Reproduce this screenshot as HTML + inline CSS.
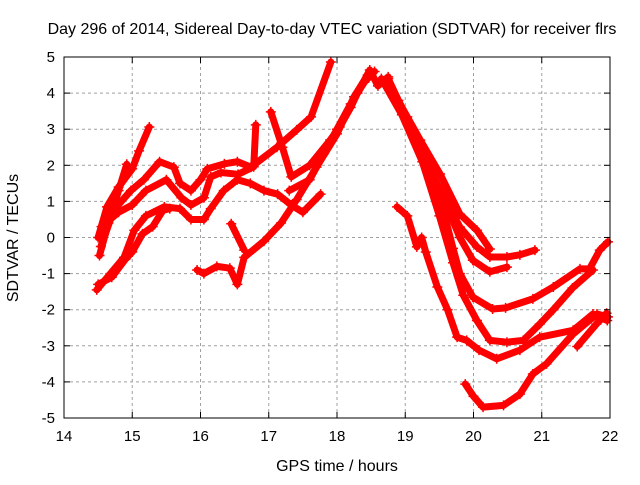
<!DOCTYPE html>
<html><head><meta charset="utf-8"><style>
body{margin:0;background:#fff;}
svg text{font-family:"Liberation Sans",sans-serif;font-size:15px;fill:#000;}
svg text.big{font-size:16px;}
</style></head><body>
<svg id="chart" width="640" height="480" xmlns="http://www.w3.org/2000/svg">
<rect width="640" height="480" fill="#fff"/>
<text class="big" x="332" y="34" text-anchor="middle">Day 296 of 2014, Sidereal Day-to-day VTEC variation (SDTVAR) for receiver flrs</text>
<text class="big" x="337" y="471" text-anchor="middle">GPS time / hours</text>
<text class="big" transform="translate(18,238) rotate(-90)" text-anchor="middle">SDTVAR / TECUs</text>
<g id="grid"></g><g id="series"></g><g id="axes"></g>
</svg>
<script>
const xTicks=[14,15,16,17,18,19,20,21,22];
const yTicks=[-5,-4,-3,-2,-1,0,1,2,3,4,5];
const trackA=[[14.54,-0.25],[14.73,0.76],[14.98,1.3],[15.17,1.6],[15.4,2.1],[15.61,1.95],[15.7,1.5],[15.86,1.3],[16.0,1.6],[16.1,1.9],[16.35,2.04],[16.54,2.1],[16.74,1.95],[17.12,2.5],[17.41,2.98],[17.62,3.34],[17.91,4.86]];
const trackB=[[14.52,-0.5],[14.65,0.4],[14.8,1.3],[14.92,2.03]];
const trackC=[[14.5,0.0],[14.63,0.85],[14.8,1.4],[15.0,1.9],[15.1,2.4],[15.25,3.06]];
const trackD=[[14.55,0.3],[14.8,0.7],[15.0,0.9],[15.2,1.3],[15.5,1.6],[15.72,1.1],[15.86,0.9],[16.05,1.1],[16.15,1.68],[16.3,1.8],[16.55,1.75],[16.78,1.96],[16.81,3.12]];
const trackE=[[14.48,-1.45],[14.68,-1.0],[14.88,-0.55],[15.03,0.2],[15.2,0.6],[15.47,0.85],[15.7,0.8],[15.86,0.5],[16.05,0.5],[16.15,0.8],[16.34,1.3],[16.54,1.6],[16.73,1.5],[16.93,1.3],[17.13,1.2],[17.33,0.9],[17.5,0.7],[17.76,1.2]];
const trackF=[[14.5,-1.3],[14.7,-1.1],[14.9,-0.6],[15.0,-0.4],[15.15,0.1],[15.3,0.3],[15.45,0.75],[15.55,0.8]];
const trackG=[[17.03,3.48],[17.2,2.5],[17.33,1.68],[17.6,2.0],[17.9,2.7],[18.04,3.06],[18.2,3.6],[18.3,4.0],[18.48,4.64],[18.6,4.2],[18.75,4.45]];
const trackH=[[15.95,-0.9],[16.05,-1.0],[16.24,-0.8],[16.43,-0.85],[16.54,-1.3],[16.64,-0.55],[16.93,-0.1],[17.18,0.4],[17.41,1.05],[17.7,1.95],[18.0,2.87],[18.25,3.9],[18.45,4.5]];
const trackI=[[16.45,0.38],[16.64,-0.35]];
const trackJ=[[17.3,1.3],[17.6,1.6],[17.8,2.3],[18.0,3.0],[18.2,3.7],[18.4,4.3],[18.55,4.6]];
const trackD1=[[18.73,4.36],[19.03,3.34],[19.22,2.7],[19.51,1.76],[19.8,0.65],[20.05,0.2],[20.24,-0.32]];
const trackD2=[[18.75,4.4],[18.9,3.8],[19.2,2.6],[19.47,1.48],[19.8,0.29],[20.05,-0.26],[20.24,-0.54],[20.49,-0.54],[20.68,-0.48],[20.9,-0.35]];
const trackD3=[[18.75,4.2],[19.1,3.0],[19.4,1.7],[19.6,0.9],[19.8,0.0],[19.99,-0.63],[20.24,-0.95],[20.49,-0.82]];
const trackD4=[[18.7,4.3],[19.0,3.3],[19.3,2.0],[19.55,0.8],[19.7,-0.3],[19.8,-1.0],[19.99,-1.65],[20.28,-1.98],[20.47,-1.95],[20.87,-1.7],[21.17,-1.37],[21.56,-0.87],[21.7,-0.87],[21.85,-0.35],[21.97,-0.12]];
const trackD5=[[18.65,4.4],[18.95,3.4],[19.25,2.1],[19.5,0.6],[19.7,-0.7],[19.85,-1.6],[20.05,-2.3],[20.24,-2.85],[20.49,-2.9],[20.73,-2.85],[20.97,-2.4],[21.17,-2.0],[21.45,-1.4],[21.75,-0.9]];
const trackD6=[[18.88,0.85],[19.03,0.6],[19.17,-0.26],[19.24,0.0],[19.3,-0.4],[19.47,-1.37],[19.62,-2.0],[19.76,-2.76],[19.9,-2.85],[20.08,-3.12],[20.34,-3.36],[20.68,-3.12],[20.97,-2.76],[21.46,-2.57],[21.75,-2.12],[21.96,-2.3]];
const trackD7=[[21.52,-3.02],[21.8,-2.4],[21.95,-2.1]];
const trackD8=[[19.88,-4.06],[20.0,-4.4],[20.14,-4.7],[20.44,-4.65],[20.68,-4.34],[20.87,-3.78],[21.07,-3.5],[21.46,-2.67],[21.81,-2.12],[21.97,-2.2]];
const tracks=[trackA,trackB,trackC,trackD,trackE,trackF,trackG,trackH,trackI,trackJ,trackD1,trackD2,trackD3,trackD4,trackD5,trackD6,trackD7,trackD8];

const X0=64,X1=610,Y0=418,Y1=57;
const sx=v=>X0+(v-14)/(22-14)*(X1-X0);
const sy=v=>Y0-(v+5)/10*(Y0-Y1);
const NS="http://www.w3.org/2000/svg";
const grid=document.getElementById('grid'),axes=document.getElementById('axes'),ser=document.getElementById('series');
function mk(tag,attrs,parent){const e=document.createElementNS(NS,tag);for(const k in attrs)e.setAttribute(k,attrs[k]);parent.appendChild(e);return e;}
xTicks.forEach(t=>{
  const x=sx(t);
  if(t>14&&t<22){const g=mk('line',{x1:x,y1:Y0,x2:x,y2:Y1,stroke:'#a0a0a0','stroke-dasharray':'3,3'},grid);
  
  }
  mk('line',{x1:x,y1:Y0,x2:x,y2:Y0-6,stroke:'#000'},axes);
  mk('line',{x1:x,y1:Y1,x2:x,y2:Y1+6,stroke:'#000'},axes);
  const l=mk('text',{x:x,y:Y0+23,'text-anchor':'middle'},axes);l.textContent=t;
  
  
});
yTicks.forEach(t=>{
  const y=sy(t);
  if(t>-5&&t<5){const g=mk('line',{x1:X0,y1:y,x2:X1,y2:y,stroke:'#a0a0a0','stroke-dasharray':'3,3'},grid);
  
  }
  mk('line',{x1:X0,y1:y,x2:X0+6,y2:y,stroke:'#000'},axes);
  mk('line',{x1:X1,y1:y,x2:X1-6,y2:y,stroke:'#000'},axes);
  const l=mk('text',{x:X0-9,y:y+5,'text-anchor':'end'},axes);l.textContent=t;
  
  
});
const frame=mk('rect',{x:X0,y:Y1,width:X1-X0,height:Y0-Y1,fill:'none',stroke:'#000'},axes);


tracks.forEach((tr,i)=>{
  const pts=tr.map(p=>sx(p[0])+','+sy(p[1])).join(' ');
  const pl=mk('polyline',{points:pts,fill:'none',stroke:'#ff0000','stroke-width':7,'stroke-linejoin':'round','stroke-linecap':'round'},ser);
  
  
  tr.forEach(p=>{
    const x=sx(p[0]),y=sy(p[1]);
    const m=mk('path',{d:`M${x-5},${y}H${x+5}M${x},${y-5}V${y+5}`,stroke:'#ff0000','stroke-width':1.5},ser);
    
    
  });
});
</script>
</body></html>
